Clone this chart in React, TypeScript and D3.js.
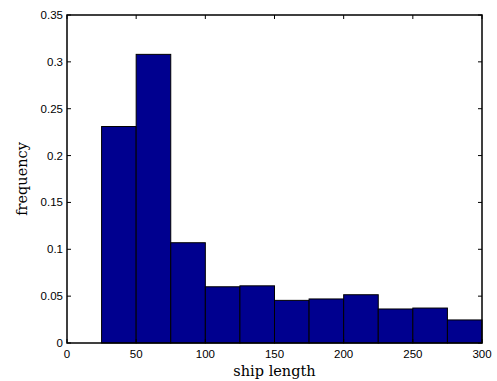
import React from "react";
import * as d3 from "d3";

const binStarts = [25, 50, 75, 100, 125, 150, 175, 200, 225, 250, 275];
const binWidth = 25;
const frequencies = [0.231, 0.308, 0.107, 0.060, 0.061, 0.0455, 0.047, 0.0515, 0.0363, 0.0373, 0.0246];
const xTicks = [0, 50, 100, 150, 200, 250, 300];
const yTicks = [0, 0.05, 0.1, 0.15, 0.2, 0.25, 0.3, 0.35];

const W = 497;
const H = 381;
const L = 67, R = 482, T = 15, B = 343;

export default function App() {
  const x = d3.scaleLinear().domain([0, 300]).range([L, R]);
  const y = d3.scaleLinear().domain([0, 0.35]).range([B, T]);
  const tl = 4;
  const yFmt = (v: number) => (v === 0 ? "0" : String(+v.toFixed(2)));
  return (
    <svg width={W} height={H} style={{ position: "absolute", left: 0, top: 0, background: "#fff" }}>
      {binStarts.map((s, i) => (
        <rect
          key={i}
          x={x(s)}
          y={y(frequencies[i])}
          width={x(s + binWidth) - x(s)}
          height={y(0) - y(frequencies[i])}
          fill="#00008F"
          stroke="#000"
          strokeWidth={1}
        />
      ))}
      {xTicks.map((t) => (
        <g key={"x" + t}>
          <line x1={x(t)} x2={x(t)} y1={B} y2={B - tl} stroke="#000" strokeWidth={1} />
          <line x1={x(t)} x2={x(t)} y1={T} y2={T + tl} stroke="#000" strokeWidth={1} />
          <text x={x(t)} y={B + 15} fontFamily="Liberation Sans, Arial, sans-serif" fontSize={11.5} textAnchor="middle">
            {t}
          </text>
        </g>
      ))}
      {yTicks.map((t) => (
        <g key={"y" + t}>
          <line x1={L} x2={L + tl} y1={y(t)} y2={y(t)} stroke="#000" strokeWidth={1} />
          <line x1={R} x2={R - tl} y1={y(t)} y2={y(t)} stroke="#000" strokeWidth={1} />
          <text x={L - 4} y={y(t) + 4} fontFamily="Liberation Sans, Arial, sans-serif" fontSize={11.5} textAnchor="end">
            {yFmt(t)}
          </text>
        </g>
      ))}
      <rect x={L} y={T} width={R - L} height={B - T} fill="none" stroke="#000" strokeWidth={1.5} />
      <text x={(L + R) / 2} y={376} fontFamily="DejaVu Serif, serif" fontSize={14.5} textAnchor="middle">
        ship length
      </text>
      <text
        transform={`translate(27,${(T + B) / 2}) rotate(-90)`}
        fontFamily="DejaVu Serif, serif"
        fontSize={14.5}
        textAnchor="middle"
      >
        frequency
      </text>
    </svg>
  );
}
